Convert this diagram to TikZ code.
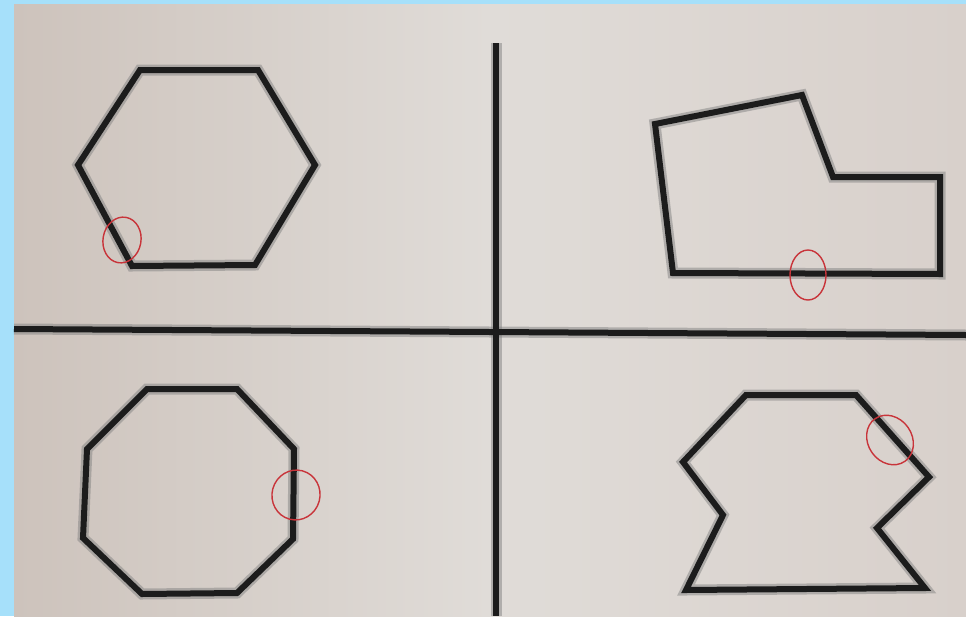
\documentclass[tikz,border=0pt]{standalone}
\definecolor{bgblue}{HTML}{A6E0FA}
\definecolor{paperL}{HTML}{CDC3BC}
\definecolor{paperM}{HTML}{E0DCD8}
\definecolor{paperR}{HTML}{D8D0CB}
\definecolor{ink}{HTML}{1C1C1C}
\definecolor{redpen}{HTML}{C8343A}
\tikzset{
  blurline/.style={draw=ink!55, line width=11pt, line join=miter, opacity=0.5},
  inkline/.style={draw=ink, line width=6pt, line join=miter},
  redring/.style={draw=redpen, line width=1.4pt},
}
\begin{document}
\begin{tikzpicture}[x=1pt,y=-1pt]
\useasboundingbox (0,0) rectangle (966,616);
\fill[bgblue] (0,0) rectangle (966,616);
\shade[left color=paperL, right color=paperR, middle color=paperM] (14,4) rectangle (966,616);
% dividing lines
\draw[blurline] (496,43) -- (496,616);
\draw[blurline] (14,329) -- (966,335);
\draw[inkline] (496,43) -- (496,616);
\draw[inkline] (14,329) -- (966,335);
% hexagon
\foreach \s in {blurline,inkline}
  \draw[\s] (140,70) -- (258,70) -- (315,165) -- (255,265) -- (132,266) -- (78,165) -- cycle;
% irregular shape top right
\foreach \s in {blurline,inkline}
  \draw[\s] (655,124) -- (802,95) -- (833,177) -- (940,177) -- (940,274) -- (673,273) -- cycle;
% octagon
\foreach \s in {blurline,inkline}
  \draw[\s] (147,389) -- (237,389) -- (294,449) -- (293,539) -- (237,593) -- (142,594) -- (83,538) -- (87,449) -- cycle;
% bottom right shape
\foreach \s in {blurline,inkline}
  \draw[\s] (746,395) -- (856,395) -- (929,477) -- (877,528) -- (925,588) -- (686,590) -- (723,515) -- (683,462) -- cycle;
% red circles
\draw[redring, rotate around={-10:(122,240)}] (122,240) ellipse (19 and 23);
\draw[redring] (808,275) ellipse (18 and 25);
\draw[redring, rotate around={-15:(296,495)}] (296,495) ellipse (24 and 25);
\draw[redring, rotate around={35:(890,440)}] (890,440) ellipse (22 and 26);
\end{tikzpicture}
\end{document}
